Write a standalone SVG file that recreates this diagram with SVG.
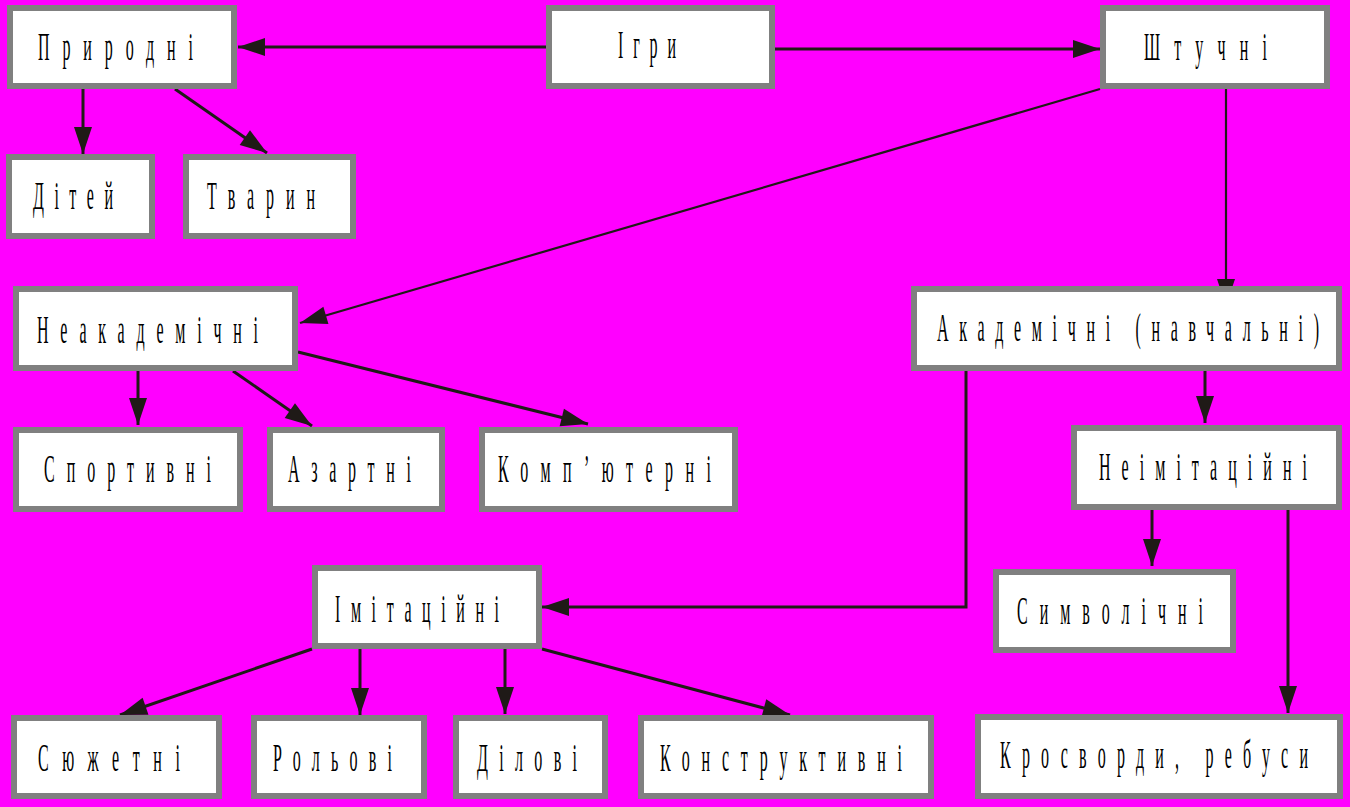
<svg xmlns="http://www.w3.org/2000/svg" width="1350" height="807" viewBox="0 0 1350 807">
<defs>
<style>
.box{fill:#fff;stroke:#808080;stroke-width:6}
.lbl{font-family:"Liberation Serif","Times New Roman",serif;font-size:40px;fill:#000}
.c{fill:none;stroke:#1f1a17;stroke-width:3;marker-end:url(#ah)}
.t{stroke-width:2.2}
</style>
<marker id="ah" markerUnits="userSpaceOnUse" viewBox="-28 -10 29 20" refX="0" refY="0" markerWidth="29" markerHeight="20" orient="auto">
<path d="M0,0 L-27,-9 L-27,9 Z" fill="#1f1a17"/>
</marker>
</defs>
<rect width="1350" height="807" fill="#ff00ff"/>
<g id="connectors">
<line class="c" x1="546" y1="47" x2="238" y2="47"/>
<line class="c" x1="775" y1="49" x2="1100" y2="49"/>
<line class="c" x1="83" y1="89" x2="83" y2="154"/>
<line class="c" x1="175" y1="89" x2="267" y2="153"/>
<line class="c t" x1="1100" y1="89" x2="300" y2="323"/>
<line class="c t" x1="1226" y1="89" x2="1226" y2="306"/>
<line class="c" x1="138" y1="371" x2="138" y2="425"/>
<line class="c" x1="233" y1="371" x2="312" y2="426"/>
<line class="c" x1="298" y1="352" x2="588" y2="424"/>
<line class="c" x1="1205" y1="371" x2="1205" y2="423"/>
<polyline class="c" points="966,371 966,607 542,607"/>
<line class="c" x1="1152" y1="510" x2="1152" y2="566"/>
<line class="c" x1="1288" y1="510" x2="1288" y2="713"/>
<line class="c" x1="312" y1="649" x2="120" y2="715"/>
<line class="c" x1="360" y1="649" x2="360" y2="715"/>
<line class="c" x1="505" y1="649" x2="505" y2="714"/>
<line class="c" x1="542" y1="649" x2="790" y2="715"/>
</g>
<g id="n-pryrodni"><rect class="box" x="10" y="8" width="224" height="78"/><text class="lbl" transform="scale(0.4 1)" x="95" y="60" textLength="387.5" lengthAdjust="spacing">Природні</text></g>
<g id="n-ihry"><rect class="box" x="549" y="8" width="223" height="78"/><text class="lbl" transform="scale(0.4 1)" x="1545" y="58" textLength="145" lengthAdjust="spacing">Ігри</text></g>
<g id="n-shtuchni"><rect class="box" x="1103" y="8" width="224" height="78"/><text class="lbl" transform="scale(0.4 1)" x="2860" y="60" textLength="307.5" lengthAdjust="spacing">Штучні</text></g>
<g id="n-ditei"><rect class="box" x="9" y="157" width="143" height="79"/><text class="lbl" transform="scale(0.4 1)" x="82.5" y="209" textLength="200" lengthAdjust="spacing">Дітей</text></g>
<g id="n-tvaryn"><rect class="box" x="186" y="157" width="167" height="79"/><text class="lbl" transform="scale(0.4 1)" x="517.5" y="209" textLength="270" lengthAdjust="spacing">Тварин</text></g>
<g id="n-neakademichni"><rect class="box" x="16" y="289" width="279" height="79"/><text class="lbl" transform="scale(0.4 1)" x="92.5" y="343" textLength="552.5" lengthAdjust="spacing">Неакадемічні</text></g>
<g id="n-akademichni"><rect class="box" x="914" y="289" width="425" height="79"/><text class="lbl" transform="scale(0.4 1)" x="2342.5" y="341" textLength="955" lengthAdjust="spacing">Академічні (навчальні)</text></g>
<g id="n-sportyvni"><rect class="box" x="16" y="430" width="224" height="79"/><text class="lbl" transform="scale(0.4 1)" x="110" y="482" textLength="417.5" lengthAdjust="spacing">Спортивні</text></g>
<g id="n-azartni"><rect class="box" x="270" y="430" width="172" height="79"/><text class="lbl" transform="scale(0.4 1)" x="720" y="482" textLength="307.5" lengthAdjust="spacing">Азартні</text></g>
<g id="n-kompiuterni"><rect class="box" x="482" y="430" width="253" height="79"/><text class="lbl" transform="scale(0.4 1)" x="1245" y="482" textLength="532.5" lengthAdjust="spacing">Комп’ютерні</text></g>
<g id="n-neimitatsiini"><rect class="box" x="1074" y="428" width="265" height="79"/><text class="lbl" transform="scale(0.4 1)" x="2747.5" y="480" textLength="520" lengthAdjust="spacing">Неімітаційні</text></g>
<g id="n-imitatsiini"><rect class="box" x="315" y="568" width="224" height="78"/><text class="lbl" transform="scale(0.4 1)" x="837.5" y="622" textLength="410" lengthAdjust="spacing">Імітаційні</text></g>
<g id="n-symvolichni"><rect class="box" x="996" y="572" width="237" height="78"/><text class="lbl" transform="scale(0.4 1)" x="2542.5" y="624" textLength="465" lengthAdjust="spacing">Символічні</text></g>
<g id="n-siuzhetni"><rect class="box" x="14" y="718" width="205" height="78"/><text class="lbl" transform="scale(0.4 1)" x="95" y="771" textLength="355" lengthAdjust="spacing">Сюжетні</text></g>
<g id="n-rolovi"><rect class="box" x="254" y="718" width="170" height="78"/><text class="lbl" transform="scale(0.4 1)" x="682.5" y="771" textLength="297.5" lengthAdjust="spacing">Рольові</text></g>
<g id="n-dilovi"><rect class="box" x="456" y="718" width="149" height="78"/><text class="lbl" transform="scale(0.4 1)" x="1192.5" y="771" textLength="250" lengthAdjust="spacing">Ділові</text></g>
<g id="n-konstruktyvni"><rect class="box" x="641" y="718" width="290" height="78"/><text class="lbl" transform="scale(0.4 1)" x="1650" y="771" textLength="605" lengthAdjust="spacing">Конструктивні</text></g>
<g id="n-krosvordy"><rect class="box" x="978" y="717" width="362" height="79"/><text class="lbl" transform="scale(0.4 1)" x="2500" y="768" textLength="770" lengthAdjust="spacing">Кросворди, ребуси</text></g>
</svg>
